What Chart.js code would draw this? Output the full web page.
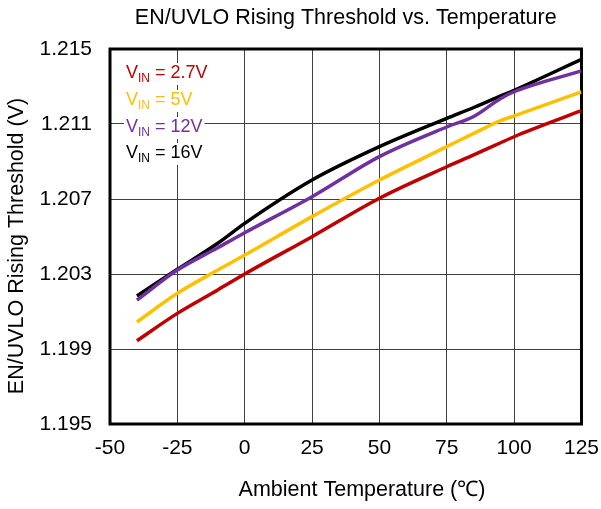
<!DOCTYPE html>
<html>
<head>
<meta charset="utf-8">
<script src="https://cdn.jsdelivr.net/npm/chart.js@4"></script>
<style>
  html, body { margin: 0; padding: 0; background: #fff; }
  #wrap { width: 601px; height: 509px; }
</style>
</head>
<body>
<div id="wrap"><canvas id="chart" width="601" height="509"></canvas></div>
<script>
/* ─── Data ─── */
const tempC   = [-40, -25, -10, 0, 25, 50, 75, 85, 95, 100, 125];
const vin2v7  = [1.19944, 1.20090, 1.20215, 1.20300, 1.20499, 1.20704, 1.20872, 1.20935, 1.21000, 1.21032, 1.21171];
const vin5v   = [1.20044, 1.20197, 1.20321, 1.20401, 1.20606, 1.20801, 1.20979, 1.21050, 1.21118, 1.21143, 1.21271];
const vin12v  = [1.20161, 1.20321, 1.20440, 1.20520, 1.20712, 1.20926, 1.21084, 1.21140, 1.21236, 1.21272, 1.21383];
const vin16v  = [1.20183, 1.20325, 1.20464, 1.20570, 1.20801, 1.20979, 1.21130, 1.21188, 1.21250, 1.21280, 1.21445];

const xTicks = [-50, -25, 0, 25, 50, 75, 100, 125];
const yTicks = [1.195, 1.199, 1.203, 1.207, 1.211, 1.215];

const seriesNames  = ['2.7V', '5V', '12V', '16V'];
const seriesColors = ['#C00000', '#FFC000', '#7030A0', '#000000'];
const seriesData   = [vin2v7, vin5v, vin12v, vin16v];

const chartTitle = 'EN/UVLO Rising Threshold vs. Temperature';
const xTitle = 'Ambient Temperature (℃)';
const yTitle = 'EN/UVLO Rising Threshold (V)';

const FONT = "'Liberation Sans', Arial, sans-serif";

const toPoints = vals => vals.map((v, i) => ({ x: tempC[i], y: v }));

/* ─── Plot frame, titles, inline legend ─── */
const framePlugin = {
  id: 'frame',
  beforeDatasetsDraw(chart) {
    const { ctx, chartArea: a } = chart;
    ctx.save();
    ctx.strokeStyle = '#000';
    ctx.lineWidth = 3;
    ctx.strokeRect(a.left, a.top, a.right - a.left, a.bottom - a.top);
    ctx.restore();
  },
  afterDatasetsDraw(chart) {
    const { ctx, chartArea: a } = chart;
    ctx.save();
    ctx.textBaseline = 'middle';
    ctx.textAlign = 'left';
    const rowY = [73, 100, 127, 153];
    seriesNames.forEach((name, i) => {
      const x = 126, y = rowY[i];
      ctx.font = `18px ${FONT}`;
      const wV = ctx.measureText('V').width;
      ctx.font = `12px ${FONT}`;
      const wSub = ctx.measureText('IN').width;
      ctx.font = `18px ${FONT}`;
      const rest = ' = ' + name;
      const wRest = ctx.measureText(rest).width;
      ctx.fillStyle = '#fff';
      ctx.fillRect(x - 2, y - 10, wV + wSub + wRest + 4, 22);
      ctx.fillStyle = seriesColors[i];
      ctx.fillText('V', x, y);
      ctx.font = `12px ${FONT}`;
      ctx.fillText('IN', x + wV, y + 6);
      ctx.font = `18px ${FONT}`;
      ctx.fillText(rest, x + wV + wSub, y);
    });

    // titles
    ctx.fillStyle = '#000';
    ctx.textAlign = 'center';
    ctx.font = `21.5px ${FONT}`;
    ctx.fillText(chartTitle, (a.left + a.right) / 2, 18);
    ctx.fillText(xTitle, 362, 490);
    ctx.translate(17, 246);
    ctx.rotate(-Math.PI / 2);
    ctx.fillText(yTitle, 0, 0);
    ctx.restore();
  },
};

new Chart(document.getElementById('chart'), {
  type: 'line',
  data: {
    datasets: seriesData.map((vals, i) => ({
      label: 'VIN = ' + seriesNames[i],
      data: toPoints(vals),
      borderColor: seriesColors[i],
      backgroundColor: seriesColors[i],
      borderWidth: 3.5,
      pointRadius: 0,
      cubicInterpolationMode: 'monotone',
      fill: false,
    })),
  },
  options: {
    responsive: false,
    animation: false,
    layout: { padding: { left: 0, right: 18, top: 49, bottom: 0 } },
    plugins: {
      legend: { display: false },
      tooltip: { enabled: false },
      title: { display: false },
    },
    scales: {
      x: {
        type: 'linear',
        min: -50, max: 125,
        afterBuildTicks: s => { s.ticks = xTicks.map(v => ({ value: v })); },
        afterFit: s => { s.height = 85; },
        grid: { color: '#404040', lineWidth: 1, drawTicks: true, tickLength: 10, tickColor: 'rgba(0,0,0,0)' },
        border: { display: false },
        ticks: { color: '#000', font: { family: FONT, size: 21 }, padding: 2 },
        title: { display: false },
      },
      y: {
        min: 1.195, max: 1.215,
        afterBuildTicks: s => { s.ticks = yTicks.map(v => ({ value: v })); },
        afterFit: s => { s.width = 110; },
        grid: { color: '#404040', lineWidth: 1, drawTicks: true, tickLength: 16, tickColor: 'rgba(0,0,0,0)' },
        border: { display: false },
        ticks: {
          color: '#000',
          font: { family: FONT, size: 21 },
          padding: 2,
          callback: v => v.toFixed(3),
        },
        title: { display: false },
      },
    },
  },
  plugins: [framePlugin],
});
</script>
</body>
</html>
